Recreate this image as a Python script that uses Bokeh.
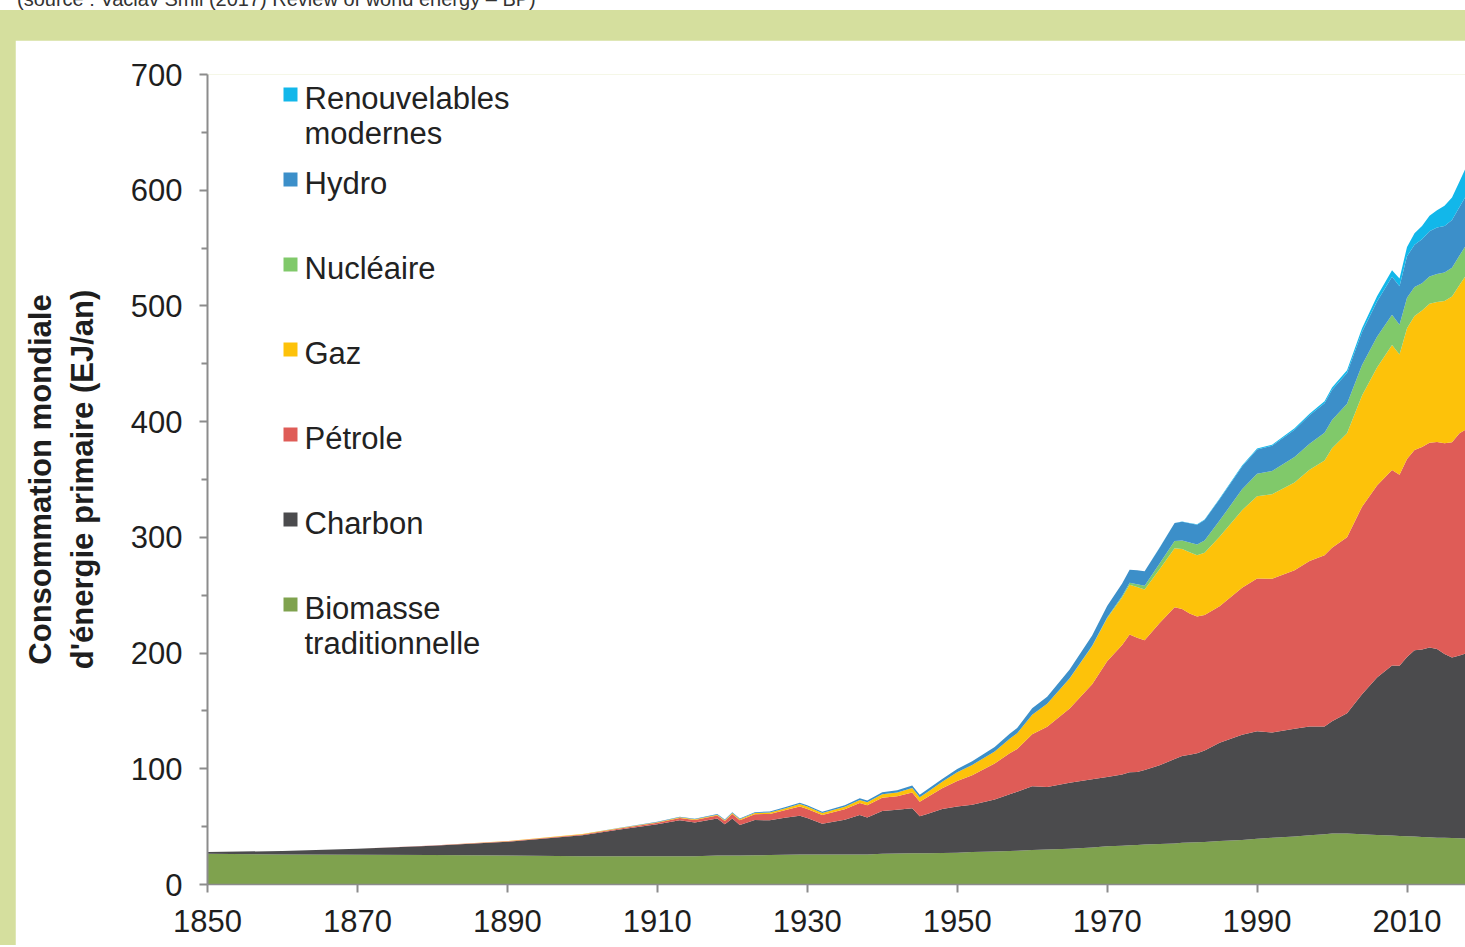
from bokeh.plotting import figure
from bokeh.models import ColumnDataSource, FixedTicker, Range1d, Spacer, Div
from bokeh.layouts import column, row
from bokeh.embed import file_html
from bokeh.resources import INLINE
from bokeh.core.properties import value

# ---------------- data (EJ / an) ----------------
years = [1850, 1860, 1870, 1880, 1890, 1900, 1905, 1910, 1913, 1915, 1918, 1919, 1920, 1921,
         1923, 1925, 1927, 1929, 1930, 1932, 1935, 1937, 1938, 1940, 1942, 1944, 1945, 1946,
         1948, 1950, 1952, 1955, 1957, 1958, 1960, 1962, 1965, 1968, 1970, 1972, 1973, 1974,
         1975, 1977, 1979, 1980, 1981, 1982, 1983, 1985, 1988, 1990, 1992, 1995, 1997, 1999,
         2000, 2002, 2004, 2006, 2008, 2009, 2010, 2011, 2012, 2013, 2014, 2015, 2016, 2017, 2018]

biomasse = [26.5, 26.0, 25.8, 25.5, 25.0, 24.5, 24.5, 24.5, 24.5, 24.5, 25.0, 25.0, 25.0, 25.0,
            25.2, 25.5, 25.7, 26.0, 26.0, 26.0, 26.0, 26.0, 26.0, 26.5, 26.7, 27.0, 27.0, 27.0,
            27.2, 27.5, 28.0, 28.5, 29.0, 29.2, 29.8, 30.3, 31.0, 32.0, 33.0, 33.5, 34.0, 34.2,
            34.5, 35.0, 35.5, 36.0, 36.2, 36.5, 36.8, 37.5, 38.5, 39.5, 40.3, 41.5, 42.5, 43.5,
            44.0, 44.0, 43.5, 42.8, 42.3, 42.0, 41.7, 41.4, 41.1, 40.8, 40.5, 40.3, 40.1, 40.0, 39.8]

charbon = [1.5, 3.0, 5.0, 8.0, 12.0, 18.0, 23.0, 27.5, 31.0, 29.0, 32.0, 27.0, 32.0, 26.5,
           30.5, 30.0, 32.0, 33.5, 31.5, 26.5, 30.0, 34.0, 32.0, 37.0, 38.0, 39.0, 32.0, 34.0,
           38.0, 40.0, 41.0, 45.0, 49.0, 51.0, 55.0, 54.0, 57.0, 59.0, 60.0, 61.5, 63.0, 63.0,
           64.5, 68.0, 73.0, 75.0, 76.0, 77.0, 79.0, 85.0, 91.0, 93.0, 91.0, 93.0, 94.0, 93.0,
           97.0, 104.0, 121.0, 136.0, 147.0, 147.0, 155.0, 161.0, 162.0, 164.0, 163.0, 159.0, 156.0, 158.0, 160.0]

petrole = [0.0, 0.0, 0.1, 0.2, 0.4, 0.8, 1.0, 1.4, 2.0, 2.2, 2.6, 2.8, 4.0, 4.0,
           5.0, 5.5, 6.5, 8.0, 7.8, 7.5, 9.0, 10.5, 10.5, 11.5, 11.5, 13.5, 12.5, 14.5,
           18.0, 22.0, 25.5, 31.0, 35.5, 37.0, 45.0, 52.0, 64.0, 82.0, 100.0, 112.0, 119.0, 116.0,
           112.0, 123.0, 131.0, 127.0, 122.0, 118.0, 117.0, 118.0, 127.0, 132.0, 133.0, 137.0, 143.0, 148.0,
           150.0, 152.0, 162.0, 166.0, 169.0, 165.0, 171.0, 173.0, 175.0, 177.0, 179.0, 182.0, 186.0, 192.0, 194.0]

gaz = [0.0, 0.0, 0.0, 0.0, 0.1, 0.3, 0.4, 0.5, 0.6, 0.6, 0.7, 0.7, 0.8, 0.8,
       1.0, 1.2, 1.5, 2.0, 2.0, 1.8, 2.2, 2.6, 2.6, 3.0, 3.4, 4.0, 4.0, 4.3,
       5.5, 7.5, 8.8, 10.5, 12.5, 13.5, 17.0, 20.0, 26.0, 33.0, 37.0, 41.0, 43.0, 44.0,
       44.0, 46.5, 51.0, 52.0, 53.0, 53.0, 54.0, 60.0, 67.0, 71.0, 73.0, 76.0, 79.0, 82.0,
       86.0, 90.0, 96.0, 102.0, 108.0, 104.0, 113.0, 116.0, 118.0, 120.0, 121.0, 123.0, 126.0, 128.0, 134.0]

nucleaire = [0.0] * 36 + [0.2, 0.4, 0.8, 1.3, 1.7, 2.3,
             3.2, 4.8, 6.3, 7.2, 8.3, 9.3, 10.5, 14.0, 18.0, 19.5, 20.0, 22.0, 22.5, 24.0,
             24.5, 25.5, 26.5, 26.5, 26.0, 25.8, 26.3, 25.0, 23.5, 23.7, 24.2, 24.5, 25.0, 25.5, 26.0]

hydro = [0.0, 0.0, 0.0, 0.0, 0.0, 0.1, 0.2, 0.3, 0.4, 0.5, 0.6, 0.6, 0.7, 0.7,
         0.8, 0.9, 1.0, 1.1, 1.1, 1.1, 1.3, 1.5, 1.5, 1.7, 1.9, 2.0, 2.0, 2.2,
         2.5, 2.8, 3.2, 3.8, 4.3, 4.6, 5.5, 6.0, 7.5, 8.8, 9.8, 10.8, 11.3, 12.0,
         12.5, 13.8, 15.5, 16.2, 16.7, 17.2, 17.8, 18.5, 19.8, 21.0, 21.8, 23.5, 24.5, 25.5,
         26.0, 26.5, 28.5, 30.5, 33.0, 33.3, 36.0, 36.5, 38.0, 39.0, 40.0, 40.3, 41.2, 42.0, 43.0]

renouvelables = [0.0] * 43 + [0.1, 0.2, 0.2, 0.3, 0.3, 0.4, 0.5, 0.7, 0.8, 1.0, 1.2, 1.4, 1.7,
                 2.0, 2.5, 3.3, 4.5, 5.5, 6.5, 8.0, 10.0, 11.5, 13.5, 15.0, 17.5, 19.5, 22.0, 25.0]

series_keys = ["biomasse", "charbon", "petrole", "gaz", "nucleaire", "hydro", "renouvelables"]
series_colors = ["#7fa24e", "#4b4b4d", "#df5c57", "#fdc20a", "#80c96a", "#3c8fc9", "#12b7ea"]

legend_labels = [["Renouvelables", "modernes"], ["Hydro"], ["Nucléaire"], ["Gaz"],
                 ["Pétrole"], ["Charbon"], ["Biomasse", "traditionnelle"]]
legend_colors = list(reversed(series_colors))

x_ticks = [1850, 1870, 1890, 1910, 1930, 1950, 1970, 1990, 2010]
y_ticks = [0, 100, 200, 300, 400, 500, 600, 700]
y_minor = [50, 150, 250, 350, 450, 550, 650]

source_text = "(source : Vaclav Smil (2017) Review of world energy – BP)"

# ---------------- layout constants ----------------
GREEN = "#d5df9e"
FONT = "Liberation Sans"
PAD_L, PAD_T, TOP_STRIP = 15, 40, 10
FIG_W, FIG_H = 1450, 905
BORDER_L, BORDER_T, BORDER_B = 192, 34, 61
FRAME_W = FIG_W - BORDER_L
FRAME_H = FIG_H - BORDER_T - BORDER_B
X0, X1 = 1850, 2017.8
Y0, Y1 = 0, 700

src = ColumnDataSource(dict(year=years, biomasse=biomasse, charbon=charbon, petrole=petrole,
                            gaz=gaz, nucleaire=nucleaire, hydro=hydro,
                            renouvelables=renouvelables))

p = figure(width=FIG_W, height=FIG_H, output_backend="svg", toolbar_location=None,
           x_range=Range1d(X0, X1), y_range=Range1d(Y0, Y1),
           min_border_left=BORDER_L, min_border_right=0, min_border_top=BORDER_T,
           min_border_bottom=BORDER_B, background_fill_color="white",
           border_fill_color="white")
p.outline_line_color = None
p.grid.grid_line_color = None

p.varea_stack(stackers=series_keys, x="year", color=series_colors, source=src)

# legend drawn as text + squares, positioned in pixels from the frame's top-left
def px_x(px):
    return X0 + px * (X1 - X0) / FRAME_W

def px_y(px):
    return Y1 - px * (Y1 - Y0) / FRAME_H

LEG_TEXT_PX, LEG_SQ_PX, LEG_TOP_PX, LEG_STEP, LINE_STEP = 97, 83, 24, 85, 35
tx, ty, tt, sx, sy = [], [], [], [], []
for i, lines in enumerate(legend_labels):
    top = LEG_TOP_PX + LEG_STEP * i
    sx.append(px_x(LEG_SQ_PX))
    sy.append(px_y(top - 4))
    for j, line in enumerate(lines):
        tx.append(px_x(LEG_TEXT_PX))
        ty.append(px_y(top + LINE_STEP * j))
        tt.append(line)

p.scatter(sx, sy, marker="square", size=14, color=legend_colors, line_color=None)
p.text(tx, ty, text=tt, text_baseline="middle", text_align="left",
       text_font=value(FONT), text_font_size="31px", text_color="#222222")

# axes
AX_COL = "#8c8c8c"
for ax in (p.xaxis[0], p.yaxis[0]):
    ax.axis_line_color = AX_COL
    ax.axis_line_width = 2
    ax.major_tick_line_color = AX_COL
    ax.major_tick_line_width = 2
    ax.major_tick_in = 0
    ax.major_tick_out = 8
    ax.major_label_text_font = FONT
    ax.major_label_text_font_size = "31px"
    ax.major_label_text_color = "#1e1e1e"
    ax.major_label_standoff = 17

p.xaxis.ticker = FixedTicker(ticks=x_ticks)
p.xaxis.minor_tick_line_color = None
p.xaxis.axis_line_width = 1.5

p.yaxis.ticker = FixedTicker(ticks=y_ticks, minor_ticks=y_minor)
p.yaxis.minor_tick_line_color = AX_COL
p.yaxis.minor_tick_line_width = 2
p.yaxis.minor_tick_in = 0
p.yaxis.minor_tick_out = 6
p.yaxis.axis_label = "Consommation mondiale\nd'énergie primaire (EJ/an)"
p.yaxis.axis_label_text_font = FONT
p.yaxis.axis_label_text_font_style = "bold"
p.yaxis.axis_label_text_font_size = "31px"
p.yaxis.axis_label_text_color = "#1e1e1e"
p.yaxis.axis_label_standoff = 28

# cut-off source line at the very top of the page
top_strip = Div(
    text=('<div style="position:relative; top:-15px; left:17px; white-space:nowrap; '
          'font-family:\'Liberation Sans\'; font-size:20px; color:#333333;">'
          + source_text + '</div>'),
    width=PAD_L + FIG_W, height=TOP_STRIP,
    styles={"background-color": "white", "overflow": "hidden", "margin": "0", "padding": "0"})

layout = column(top_strip,
                Spacer(width=PAD_L + FIG_W, height=PAD_T - TOP_STRIP),
                row(Spacer(width=PAD_L, height=FIG_H), p),
                styles={"background-color": GREEN})

open("out.html", "w").write(file_html(layout, INLINE))
